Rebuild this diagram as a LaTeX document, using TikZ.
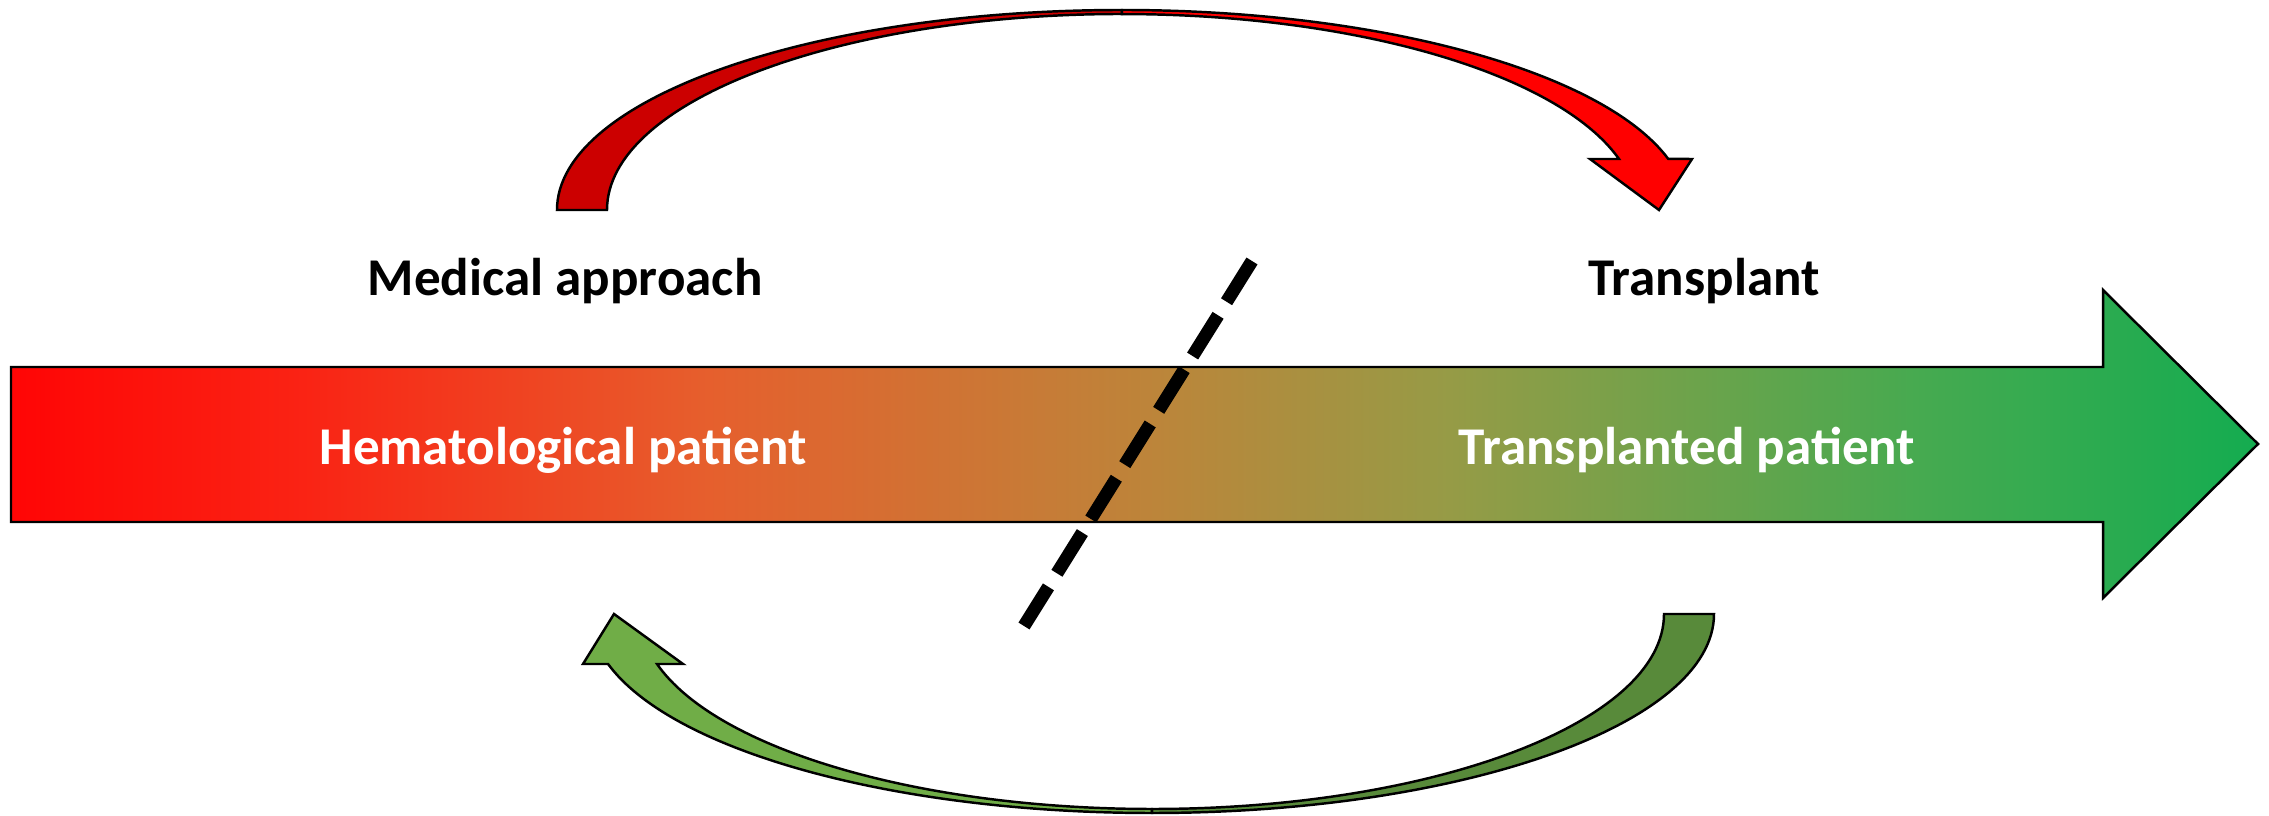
\documentclass[tikz,border=0pt]{standalone}
\usepackage{fontspec}
\setmainfont{Carlito}
\definecolor{s0}{RGB}{255,5,5}
\definecolor{s1}{RGB}{250,35,20}
\definecolor{s2}{RGB}{230,95,45}
\definecolor{s3}{RGB}{188,133,58}
\definecolor{s4}{RGB}{150,155,70}
\definecolor{s5}{RGB}{70,170,80}
\definecolor{s6}{RGB}{20,172,80}
\definecolor{redback}{RGB}{204,0,0}
\definecolor{redfront}{RGB}{255,0,0}
\definecolor{greenback}{RGB}{88,138,58}
\definecolor{greenfront}{RGB}{112,173,71}
% red-to-green band across the main arrow (25bp..75bp covers the path)
\pgfdeclarehorizontalshading{band}{100bp}{color(0bp)=(s0); color(25bp)=(s0);
  color(31.5bp)=(s1); color(40.5bp)=(s2); color(50.5bp)=(s3);
  color(57bp)=(s4); color(67.5bp)=(s5); color(75bp)=(s6); color(100bp)=(s6)}
\begin{document}
\begin{tikzpicture}[x=0.01cm,y=-0.01cm,
  outline/.style={draw=black,line width=0.7pt,line join=miter},
  caption/.style={font=\bfseries\fontsize{15.1}{18}\selectfont,inner sep=0pt,anchor=center},
  divider/.style={line width=3.7pt,dash pattern=on 13.66pt off 4.55pt}]
\useasboundingbox (0,0) rectangle (2269,816);

% main progression arrow
\shadedraw[outline,shading=band]
  (11,367) -- (2103,367) -- (2103,290) -- (2258,444) -- (2103,598)
  -- (2103,522) -- (11,522) -- cycle;

% upper curved arrow: back half, then front half with head
\filldraw[outline,fill=redback]
  (557,210) arc[start angle=180,end angle=270,x radius=565,y radius=200]
  -- (1122,14) arc[start angle=270,end angle=180,x radius=515,y radius=196]
  -- cycle;
\filldraw[outline,fill=redfront]
  (1122,10) arc[start angle=270,end angle=345.2,x radius=565,y radius=200]
  -- (1692,159) -- (1659,210) -- (1590,159) -- (1619,159)
  arc[start angle=344.9,end angle=270,x radius=515,y radius=196]
  -- cycle;

% lower curved arrow: back half, then front half with head
\filldraw[outline,fill=greenback]
  (1714,614) arc[start angle=0,end angle=90,x radius=562,y radius=199]
  -- (1152,809) arc[start angle=90,end angle=0,x radius=512,y radius=195]
  -- cycle;
\filldraw[outline,fill=greenfront]
  (1152,813) arc[start angle=90,end angle=165.45,x radius=562,y radius=199]
  -- (583,664) -- (614,614) -- (683,664) -- (657,664)
  arc[start angle=165.14,end angle=90,x radius=512,y radius=195]
  -- cycle;

% labels
\node[caption,text=white] (hema) at (563,450) {Hematological patient};
\node[caption,text=white] (trpat) at (1687,450) {Transplanted patient};
\node[caption] (med) at (565,281) {Medical approach};
\node[caption] (trans) at (1704,281) {Transplant};

% dashed divider
\coordinate (dtop) at (1252,261);
\coordinate (dbot) at (1024,626);
\draw[divider] (dtop) -- (dbot);
\end{tikzpicture}
\end{document}
